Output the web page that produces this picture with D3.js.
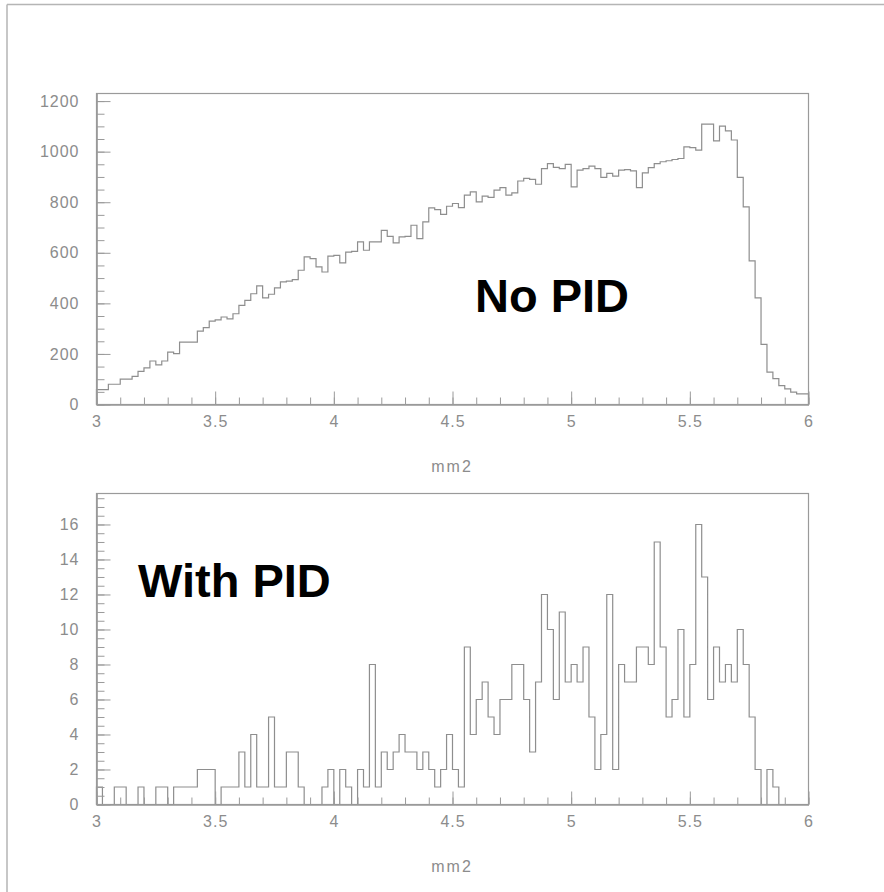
<!DOCTYPE html>
<html>
<head>
<meta charset="utf-8">
<script src="https://cdn.jsdelivr.net/npm/d3@7"></script>
<style>
  html, body { margin: 0; padding: 0; background: #fff; }
  svg { display: block; }
  .tick-label { font-family: "Liberation Sans", Arial, sans-serif; font-size: 16px; fill: #8c8c8c; letter-spacing: 1px; }
  .axis-title { font-family: "Liberation Sans", Arial, sans-serif; font-size: 16px; fill: #8c8c8c; letter-spacing: 2px; }
  .tag { font-family: "Liberation Sans", Arial, sans-serif; font-size: 47px; font-weight: bold; fill: #000; }
</style>
</head>
<body>
<svg id="chart" width="884" height="892"></svg>
<script>
// Missing-mass-squared histograms, 120 bins on [3, 6]
const xRange = [3, 6];
const xTickLabels = ["3", "3.5", "4", "4.5", "5", "5.5", "6"];
const xTitle = "mm2";

// Counts without particle identification
const noPidCounts = [
  59, 59, 80, 80, 100, 100, 111, 131, 145, 172,
  157, 172, 207, 201, 247, 247, 247, 290, 304, 330,
  335, 346, 339, 359, 392, 412, 438, 469, 422, 436,
  461, 485, 488, 494, 531, 584, 577, 544, 524, 587,
  590, 560, 603, 606, 643, 610, 643, 643, 689, 665,
  639, 663, 665, 709, 656, 722, 778, 771, 752, 784,
  795, 779, 828, 841, 801, 824, 819, 848, 858, 828,
  837, 884, 894, 890, 871, 933, 953, 938, 933, 950,
  861, 927, 933, 943, 933, 898, 914, 903, 927, 929,
  924, 858, 916, 937, 953, 960, 964, 969, 973, 1019,
  1016, 1006, 1109, 1109, 1043, 1101, 1082, 1046, 898, 782,
  568, 422, 238, 128, 102, 75, 62, 49, 42, 42
];
const noPidYTicks = [0, 200, 400, 600, 800, 1000, 1200];
const noPidYMax = 1230;
const noPidLabel = "No PID";

// Counts with particle identification applied
const withPidCounts = [
  1, 0, 0, 1, 1, 0, 0, 1, 0, 0,
  1, 1, 0, 1, 1, 1, 1, 2, 2, 2,
  0, 1, 1, 1, 3, 1, 4, 1, 1, 5,
  1, 1, 3, 3, 1, 0, 0, 0, 1, 2,
  0, 2, 1, 0, 2, 1, 8, 1, 3, 2,
  3, 4, 3, 3, 2, 3, 2, 1, 2, 4,
  2, 1, 9, 4, 6, 7, 5, 4, 6, 6,
  8, 8, 6, 3, 7, 12, 10, 6, 11, 7,
  8, 7, 9, 5, 2, 4, 12, 2, 8, 7,
  7, 9, 9, 8, 15, 9, 5, 6, 10, 5,
  8, 16, 13, 6, 9, 7, 8, 7, 10, 8,
  5, 2, 0, 2, 1, 0, 0, 0, 0, 0
];
const withPidYTicks = [0, 2, 4, 6, 8, 10, 12, 14, 16];
const withPidYMax = 17.77;
const withPidLabel = "With PID";

const svg = d3.select("#chart");
const frameColor = "#9a9a9a";
const lineColor = "#8e8e8e";

// Page border (top and left edges)
svg.append("line").attr("x1", 7).attr("y1", 4.5).attr("x2", 884).attr("y2", 4.5)
  .attr("stroke", "#b5b5b5").attr("stroke-width", 1.5);
svg.append("line").attr("x1", 7).attr("y1", 4.5).attr("x2", 7).attr("y2", 892)
  .attr("stroke", "#b5b5b5").attr("stroke-width", 1.5);

function drawPanel(opts) {
  const { left, right, top, bottom, counts, yMax, yTicks, yMinorStep, label, labelX, labelY } = opts;
  const g = svg.append("g");
  const x = d3.scaleLinear().domain(xRange).range([left, right]);
  const y = d3.scaleLinear().domain([0, yMax]).range([bottom, top]);

  // Frame
  g.append("rect")
    .attr("x", left + 0.5).attr("y", top + 0.5)
    .attr("width", right - left).attr("height", bottom - top)
    .attr("fill", "none").attr("stroke", frameColor).attr("stroke-width", 1.2);

  // Histogram outline
  const n = counts.length;
  const w = (xRange[1] - xRange[0]) / n;
  const pts = [[xRange[0], 0]];
  counts.forEach((c, i) => {
    pts.push([xRange[0] + i * w, c]);
    pts.push([xRange[0] + (i + 1) * w, c]);
  });
  pts.push([xRange[1], 0]);
  g.append("path")
    .attr("d", d3.line().x(d => x(d[0]) + 0.5).y(d => y(d[1]) + 0.5)(pts))
    .attr("fill", "none").attr("stroke", lineColor).attr("stroke-width", 1.2);

  // X axis ticks (pointing inward)
  const xMinor = d3.range(30, 61).map(v => v / 10);
  const xAxis = d3.axisBottom(x).tickValues(xMinor).tickSizeInner(-7).tickSizeOuter(0).tickFormat("");
  const gxMinor = g.append("g").attr("transform", `translate(0.5,${bottom + 0.5})`).call(xAxis);
  const xMajor = xTickLabels.map(Number);
  const gx = g.append("g").attr("transform", `translate(0.5,${bottom + 0.5})`)
    .call(d3.axisBottom(x).tickValues(xMajor).tickSizeInner(-13).tickSizeOuter(0)
      .tickPadding(22).tickFormat((d, i) => xTickLabels[i]));
  [gxMinor, gx].forEach(a => {
    a.select(".domain").attr("stroke", frameColor).attr("stroke-width", 1.2);
    a.selectAll(".tick line").attr("stroke", frameColor);
  });
  gx.selectAll(".tick text").attr("class", "tick-label").attr("dy", "0.5em").attr("y", 14);

  // Y axis ticks (pointing inward)
  const yMinor = d3.range(0, yMax + 1e-9, yMinorStep);
  const gyMinor = g.append("g").attr("transform", `translate(${left + 0.5},0.5)`)
    .call(d3.axisLeft(y).tickValues(yMinor).tickSizeInner(-8).tickSizeOuter(0).tickFormat(""));
  const gy = g.append("g").attr("transform", `translate(${left + 0.5},0.5)`)
    .call(d3.axisLeft(y).tickValues(yTicks).tickSizeInner(-14).tickSizeOuter(0).tickPadding(31).tickFormat(d3.format("d")));
  [gyMinor, gy].forEach(a => {
    a.select(".domain").attr("stroke", frameColor).attr("stroke-width", 1.2);
    a.selectAll(".tick line").attr("stroke", frameColor);
  });
  gy.selectAll(".tick text").attr("class", "tick-label").attr("x", -17).attr("text-anchor", "end");

  // Axis title
  g.append("text").attr("class", "axis-title")
    .attr("x", (left + right) / 2).attr("y", bottom + 67.5)
    .attr("text-anchor", "middle").text(xTitle);

  // Panel tag
  g.append("text").attr("class", "tag").attr("x", labelX).attr("y", labelY).text(label);
}

drawPanel({
  left: 96, right: 808, top: 93, bottom: 404,
  counts: noPidCounts, yMax: noPidYMax, yTicks: noPidYTicks, yMinorStep: 50,
  label: noPidLabel, labelX: 475, labelY: 312
});

drawPanel({
  left: 96, right: 808, top: 493, bottom: 804,
  counts: withPidCounts, yMax: withPidYMax, yTicks: withPidYTicks, yMinorStep: 0.5,
  label: withPidLabel, labelX: 138, labelY: 597
});
</script>
</body>
</html>
